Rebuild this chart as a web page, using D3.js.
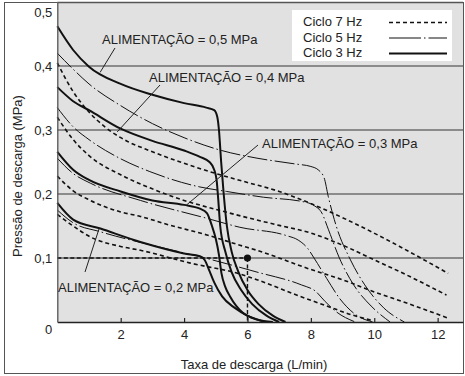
<!DOCTYPE html>
<html>
<head>
<meta charset="utf-8">
<script src="https://cdn.jsdelivr.net/npm/d3@7"></script>
<style>
  body { margin: 0; background: #fff; }
  svg { display: block; font-family: "Liberation Sans", Arial, sans-serif; }
</style>
</head>
<body>
<div id="graph"></div>
<script>
// curves: [flow L/min, pressure MPa]
var sup05_3hz = [[0,0.462],[0.5,0.425],[1,0.399],[2,0.372],[3,0.355],[4,0.342],[4.7,0.335],[4.95,0.331],[5.05,0.32],[5.1,0.30],[5.17,0.25],[5.25,0.2],[5.35,0.15],[5.5,0.11],[5.7,0.08],[6.0,0.05],[6.35,0.028],[6.8,0.01],[7.2,0]];
var sup04_3hz = [[0,0.367],[0.5,0.345],[1,0.331],[2,0.302],[3,0.283],[4,0.268],[4.5,0.258],[4.8,0.25],[4.95,0.238],[5.03,0.22],[5.08,0.19],[5.14,0.15],[5.3,0.11],[5.5,0.078],[5.8,0.05],[6.15,0.028],[6.6,0.01],[7.0,0]];
var sup03_3hz = [[0,0.266],[0.5,0.238],[1,0.222],[2,0.204],[3,0.19],[4,0.183],[4.5,0.177],[4.72,0.17],[4.88,0.15],[5.0,0.13],[5.1,0.105],[5.18,0.076],[5.3,0.055],[5.45,0.04],[5.87,0.0136],[6.3,0.004],[6.8,0]];
var sup02_3hz = [[0,0.186],[0.5,0.16],[1.36,0.146],[2.62,0.125],[3.5,0.113],[4,0.107],[4.5,0.103],[4.65,0.097],[4.8,0.08],[4.95,0.062],[5.2,0.04],[5.6,0.022],[6.0,0.01],[6.55,0]];

var sup05_5hz = [[0,0.42],[0.5,0.395],[1,0.372],[2,0.338],[3,0.31],[4,0.288],[5.18,0.268],[6.3,0.256],[7.5,0.247],[8.0,0.243],[8.25,0.237],[8.42,0.225],[8.55,0.196],[8.8,0.15],[9.25,0.097],[9.7,0.058],[10.3,0.022],[10.95,0]];
var sup04_5hz = [[0,0.335],[0.5,0.305],[1,0.285],[2,0.255],[2.92,0.235],[4.5,0.211],[5.34,0.204],[6.5,0.195],[7.75,0.188],[8.1,0.182],[8.35,0.17],[8.55,0.145],[8.9,0.1],[9.35,0.058],[9.9,0.025],[10.5,0]];
var sup03_5hz = [[0,0.256],[0.5,0.232],[1.04,0.217],[2.62,0.19],[4.72,0.162],[5.76,0.148],[7.23,0.135],[7.6,0.128],[7.9,0.115],[8.1,0.1],[8.5,0.068],[8.92,0.036],[9.4,0.012],[9.95,0]];
var sup02_5hz = [[0,0.175],[0.5,0.155],[1.36,0.141],[3.15,0.118],[4.5,0.102],[6.3,0.078],[7.7,0.058],[8.15,0.048],[8.45,0.032],[8.8,0.016],[9.4,0]];

var sup05_7hz = [[0,0.405],[0.5,0.36],[1,0.328],[1.5,0.305],[2,0.288],[3,0.266],[4,0.248],[5,0.232],[6,0.218],[7,0.204],[8,0.185],[9.13,0.16],[10.8,0.118],[12.33,0.076]];
var sup04_7hz = [[0,0.32],[0.5,0.285],[1,0.26],[2,0.23],[3,0.208],[4,0.19],[5,0.176],[6,0.163],[7,0.151],[8,0.139],[9,0.12],[10,0.097],[11,0.074],[12.28,0.042]];
var sup03_7hz = [[0,0.228],[0.5,0.205],[1.04,0.19],[2,0.172],[2.62,0.165],[3.5,0.152],[4.72,0.136],[5.76,0.12],[6.3,0.112],[8,0.082],[9,0.066],[10,0.047],[11,0.03],[12.33,0.006]];
var sup02_7hz = [[0,0.168],[0.5,0.15],[1.04,0.133],[2,0.118],[2.62,0.112],[4.2,0.092],[5.76,0.075],[6.3,0.066],[7.66,0.04],[8.5,0.025],[9.3,0.011],[9.96,0.002]];

var xTicks = [2, 4, 6, 8, 10, 12];
var yTicks = [0, 0.1, 0.2, 0.3, 0.4, 0.5];
var legendLabels = ["Ciclo 7 Hz", "Ciclo 5 Hz", "Ciclo 3 Hz"];
var supplyLabels = ["ALIMENTAÇÃO = 0,5 MPa", "ALIMENTAÇÃO = 0,4 MPa", "ALIMENTAÇÃO = 0,3 MPa", "ALIMENTAÇÃO = 0,2 MPa"];
var workPoint = [6, 0.1];

var W = 465, H = 376;
var pLeft = 57.3, pRight = 463, pTop = 2, pBottom = 322;

var x = d3.scaleLinear().domain([0, 12.8]).range([pLeft, pRight]);
var y = d3.scaleLinear().domain([0, 0.5]).range([pBottom, pTop]);

var svg = d3.select("#graph").append("svg")
	.attr("width", W).attr("height", H);

// outer frame
svg.append("rect")
	.attr("x", 4.5).attr("y", 2.5).attr("width", 459).attr("height", 371)
	.attr("fill", "none").attr("stroke", "#555").attr("stroke-width", 1);

// plot background
svg.append("rect")
	.attr("x", pLeft).attr("y", pTop).attr("width", pRight - pLeft).attr("height", pBottom - pTop)
	.attr("fill", "#e1e1e1");

// grid lines
svg.selectAll(".grid")
	.data(yTicks.filter(d => d > 0 && d < 0.5))
	.enter().append("line")
	.attr("class", "grid")
	.attr("x1", pLeft).attr("x2", pRight)
	.attr("y1", d => y(d)).attr("y2", d => y(d))
	.attr("stroke", "#6e6e6e").attr("stroke-width", 1.3);

// legend box
var legend = svg.append("g");
legend.append("rect")
	.attr("x", 292).attr("y", 10).attr("width", 160).attr("height", 51)
	.attr("fill", "#fff");

var styles = [
	{ width: 1.6, dash: "4,3" },
	{ width: 1, dash: "20,3,1.5,3" },
	{ width: 2, dash: null }
];

legendLabels.forEach(function (t, i) {
	var by = 26 + i * 15.5;
	legend.append("text")
		.attr("x", 303).attr("y", by)
		.attr("font-size", "13px").attr("fill", "#222")
		.text(t);
	legend.append("line")
		.attr("x1", 389).attr("x2", 447)
		.attr("y1", by - 3.5).attr("y2", by - 3.5)
		.attr("stroke", "#111")
		.attr("stroke-width", styles[i].width)
		.attr("stroke-dasharray", i == 1 ? "32,3,1.5,3" : styles[i].dash);
});

// working point reference
svg.append("line")
	.attr("x1", pLeft).attr("x2", x(workPoint[0]))
	.attr("y1", y(workPoint[1])).attr("y2", y(workPoint[1]))
	.attr("stroke", "#111").attr("stroke-width", 1.6).attr("stroke-dasharray", "4,2.5");
svg.append("line")
	.attr("x1", x(workPoint[0])).attr("x2", x(workPoint[0]))
	.attr("y1", y(workPoint[1])).attr("y2", y(0))
	.attr("stroke", "#111").attr("stroke-width", 1.4).attr("stroke-dasharray", "4,2.5");

// curves
var line = d3.line()
	.x(d => x(d[0]))
	.y(d => y(d[1]))
	.curve(d3.curveMonotoneX);

var curves = [
	{ data: sup05_7hz, s: 0 }, { data: sup04_7hz, s: 0 }, { data: sup03_7hz, s: 0 }, { data: sup02_7hz, s: 0 },
	{ data: sup05_5hz, s: 1 }, { data: sup04_5hz, s: 1 }, { data: sup03_5hz, s: 1 }, { data: sup02_5hz, s: 1 },
	{ data: sup05_3hz, s: 2 }, { data: sup04_3hz, s: 2 }, { data: sup03_3hz, s: 2 }, { data: sup02_3hz, s: 2 }
];

svg.selectAll(".curve")
	.data(curves)
	.enter().append("path")
	.attr("class", "curve")
	.attr("d", d => line(d.data))
	.attr("fill", "none")
	.attr("stroke", "#111")
	.attr("stroke-width", d => styles[d.s].width)
	.attr("stroke-dasharray", d => styles[d.s].dash);

svg.append("circle")
	.attr("cx", x(workPoint[0])).attr("cy", y(workPoint[1])).attr("r", 3.6)
	.attr("fill", "#111");

// axes
var xAxis = svg.append("g")
	.attr("transform", "translate(0," + pBottom + ")")
	.call(d3.axisBottom(x).tickValues(xTicks).tickSize(-4).tickSizeOuter(0).tickPadding(8).tickFormat(d3.format("d")));
xAxis.select(".domain").attr("stroke", "#222").attr("stroke-width", 1.5);
xAxis.selectAll(".tick line").attr("stroke", "#222").attr("stroke-width", 1.2);
xAxis.selectAll("text").attr("font-size", "13px").attr("fill", "#222").attr("font-family", null);

var yAxis = svg.append("g")
	.attr("transform", "translate(" + pLeft + ",0)")
	.call(d3.axisLeft(y).tickValues(yTicks).tickSize(0).tickSizeOuter(0).tickPadding(5)
		.tickFormat(d => d === 0 ? "0" : d3.format(".1f")(d).replace(".", ",")));
yAxis.select(".domain").attr("stroke", "#555").attr("stroke-width", 1.3);
yAxis.selectAll("text").attr("font-size", "13px").attr("fill", "#222").attr("font-family", null)
	.attr("dy", d => d === 0.5 ? "1.1em" : d === 0 ? "0.85em" : "0.32em");

// plot top border
svg.append("line")
	.attr("x1", pLeft).attr("x2", pRight).attr("y1", 2.5).attr("y2", 2.5)
	.attr("stroke", "#555").attr("stroke-width", 1.3);

// axis titles
svg.append("text")
	.attr("x", 254).attr("y", 369)
	.attr("text-anchor", "middle").attr("font-size", "13px").attr("fill", "#222")
	.text("Taxa de descarga (L/min)");
svg.append("text")
	.attr("transform", "translate(22,176) rotate(-90)")
	.attr("text-anchor", "middle").attr("font-size", "13px").attr("fill", "#222")
	.text("Pressão de descarga (MPa)");

// supply pressure labels with leader lines
var labelPos = [[102, 44], [149, 82], [262, 148], [58, 292]];
var leaders = [[[115, 48], [x(1.35), y(0.39)]], [[160, 85], [x(1.89), y(0.297)]], [[258, 145], [x(4.08), y(0.183)]], [[85, 272], [x(1.32), y(0.146)]]];

supplyLabels.forEach(function (t, i) {
	svg.append("text")
		.attr("x", labelPos[i][0]).attr("y", labelPos[i][1])
		.attr("font-size", "13px").attr("fill", "#222")
		.text(t);
	svg.append("line")
		.attr("x1", leaders[i][0][0]).attr("y1", leaders[i][0][1])
		.attr("x2", leaders[i][1][0]).attr("y2", leaders[i][1][1])
		.attr("stroke", "#222").attr("stroke-width", 1);
});
</script>
</body>
</html>
